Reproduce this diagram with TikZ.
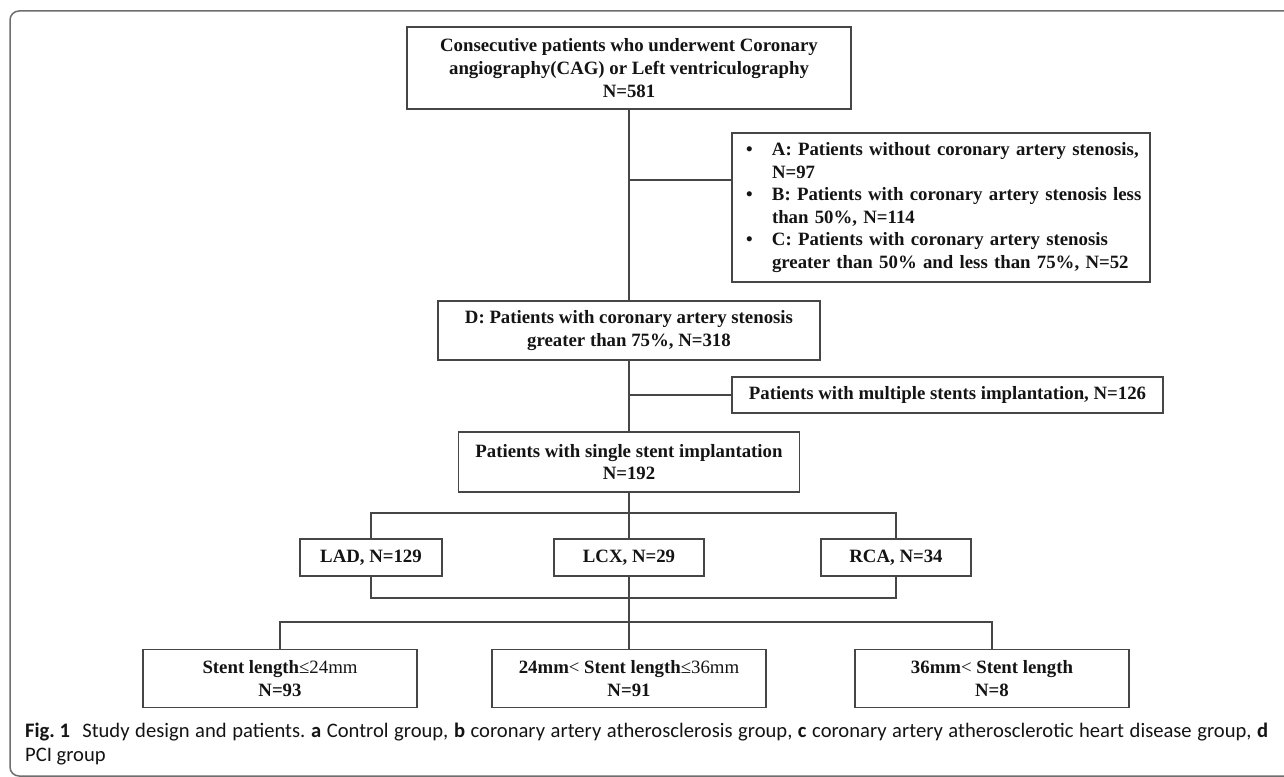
\documentclass[tikz,border=0pt]{standalone}
\usepackage{fontspec}
\setmainfont{Liberation Serif}
\newfontfamily\capfam{Carlito}
\definecolor{boxline}{RGB}{70,70,70}
\definecolor{frameline}{RGB}{110,110,110}
\definecolor{txt}{RGB}{20,20,20}
\newcommand{\bxfont}{\fontsize{18.8pt}{22.6pt}\selectfont\bfseries}
\newcommand{\cpfont}{\capfam\fontsize{20.6pt}{24pt}\selectfont\frenchspacing}
\newcommand{\rg}[1]{{\mdseries #1}}
\newcommand{\bitem}[1]{\mbox{\makebox[26pt][l]{\textbullet}#1}}
\newcommand{\citem}[1]{\mbox{\hspace*{26pt}#1}}
\begin{document}
\begin{tikzpicture}[x=1pt,y=-1pt,
  box/.style={draw=boxline, line width=1.6pt, inner sep=0pt, align=center, font=\bxfont, text=txt},
  conn/.style={draw=boxline, line width=1.1pt},
  captext/.style={anchor=base west, inner sep=0pt, font=\cpfont, text=txt}]
\useasboundingbox (0,0) rectangle (1284,776);
\clip (0,0) rectangle (1284,776);
\fill[white] (0,0) rectangle (1284,776);
\draw[frameline, line width=1.5pt, rounded corners=9pt] (1300,11) -- (10,11) -- (10,776) -- (1300,776);

\node[box, minimum width=444pt, minimum height=82pt] (top) at (629,68)
  {Consecutive patients who underwent Coronary\\angiography(CAG) or Left ventriculography\\N=581};
\node[box, minimum width=418pt, minimum height=149pt, align=left, text width=390pt] (abc) at (941,207.5)
  {\bitem{A: Patients without coronary artery stenosis,}\\
   \citem{N=97}\\
   \bitem{B: Patients with coronary artery stenosis less}\\
   \citem{than 50\%, N=114}\\
   \bitem{C: Patients with coronary artery stenosis}\\
   \citem{greater than 50\% and less than 75\%, N=52}};
\node[box, minimum width=382pt, minimum height=59pt] (D) at (629,330.5)
  {D: Patients with coronary artery stenosis\\greater than 75\%, N=318};
\node[box, minimum width=431pt, minimum height=36pt] (mult) at (947.5,395)
  {Patients with multiple stents implantation, N=126};
\node[box, minimum width=341pt, minimum height=60pt] (single) at (629,462)
  {Patients with single stent implantation\\N=192};
\node[box, minimum width=142pt, minimum height=37pt] (LAD) at (371,557.5) {LAD, N=129};
\node[box, minimum width=150pt, minimum height=37pt] (LCX) at (629,557.5) {LCX, N=29};
\node[box, minimum width=150pt, minimum height=37pt] (RCA) at (896,557.5) {RCA, N=34};
\node[box, minimum width=274pt, minimum height=58pt] (s1) at (280,678.5) {Stent length\rg{≤24mm}\\N=93};
\node[box, minimum width=274pt, minimum height=58pt] (s2) at (629,678.5) {24mm\rg{<} Stent length\rg{≤36mm}\\N=91};
\node[box, minimum width=274pt, minimum height=58pt] (s3) at (992,678.5) {36mm\rg{<} Stent length\\N=8};

\coordinate (abcin) at (732,180);
\coordinate (ub) at (629,513);
\coordinate (lb) at (629,598);
\coordinate (sb) at (629,622);

\draw[conn] (top.south) -- (D.north);
\draw[conn] (abcin -| top.south) -- (abcin);
\draw[conn] (D.south) -- (single.north);
\draw[conn] (mult.west -| D.south) -- (mult.west);
\draw[conn] (single.south) -- (LCX.north);
\draw[conn] (LAD.north) |- (ub) -| (RCA.north);
\draw[conn] (LAD.south) |- (lb) -| (RCA.south);
\draw[conn] (LCX.south) -- (s2.north);
\draw[conn] (s1.north) |- (sb) -| (s3.north);

\node[captext] (cap1) at (25,737) {\hbox to 1243pt{\mbox{\textbf{Fig.}\kern0.22em\textbf{1}}\hspace{0.6em}Study design and patients. \textbf{a} Control group, \textbf{b} coronary artery atherosclerosis group, \textbf{c} coronary artery atherosclerotic heart disease group, \textbf{d}}};
\node[captext] (cap2) at (25,761) {PCI group};
\end{tikzpicture}
\end{document}
